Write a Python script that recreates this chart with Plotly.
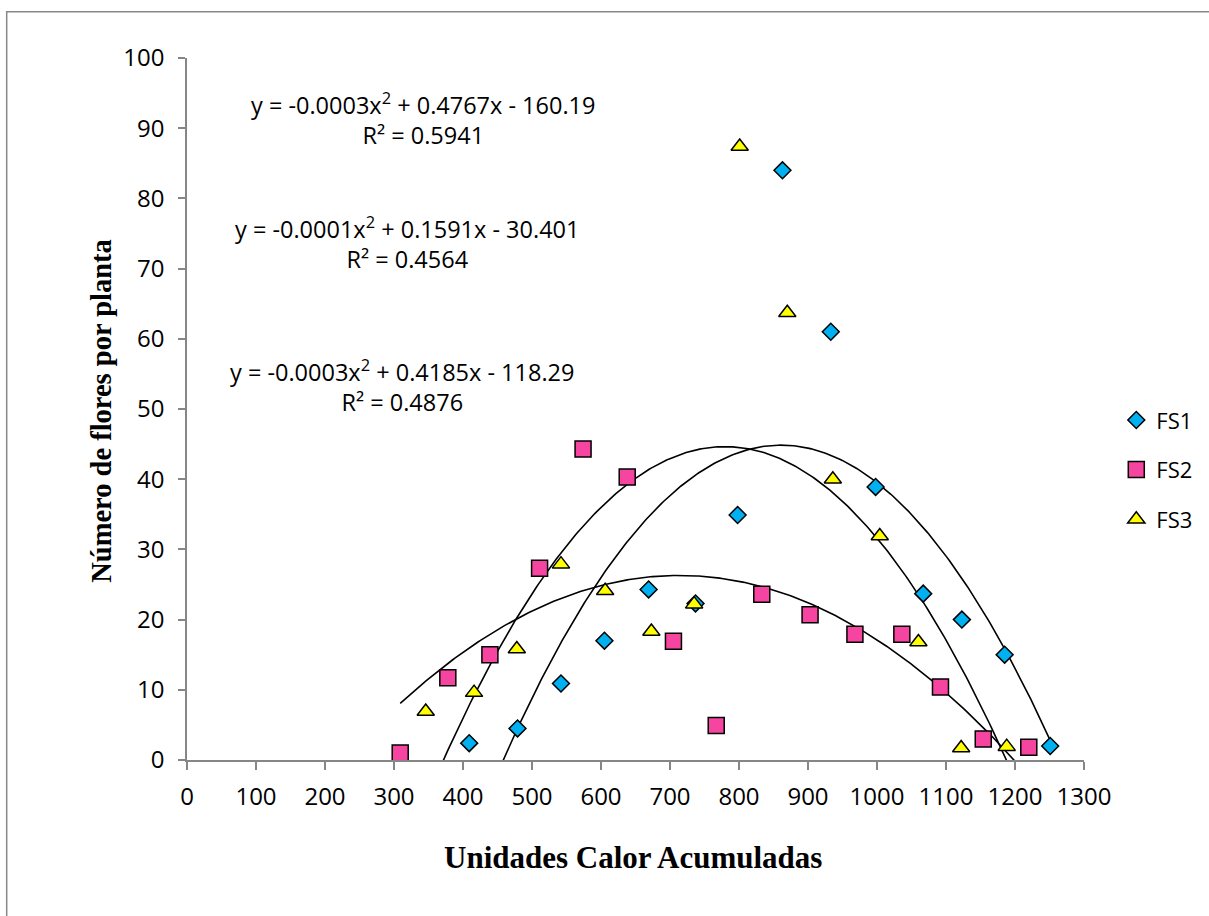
import numpy as np
import plotly.graph_objects as go

# ---- data ----
fs1_x = [409, 479, 542, 605, 669, 737, 798, 863, 933, 998, 1067, 1123, 1185, 1251]
fs1_y = [2.4, 4.5, 10.9, 17.0, 24.3, 22.3, 34.9, 84.0, 61.0, 38.9, 23.7, 20.0, 15.0, 2.0]

fs2_x = [309, 378, 439, 511, 574, 638, 705, 767, 833, 903, 968, 1036, 1092, 1154, 1220]
fs2_y = [1.0, 11.7, 15.0, 27.3, 44.3, 40.3, 16.9, 4.9, 23.6, 20.7, 17.9, 17.9, 10.4, 3.0, 1.8]

fs3_x = [346, 416, 478, 542, 606, 673, 735, 801, 870, 936, 1004, 1060, 1122, 1188]
fs3_y = [6.9, 9.6, 15.8, 27.9, 24.1, 18.3, 22.2, 87.4, 63.7, 40.0, 31.9, 16.8, 1.7, 1.9]

series_names = ["FS1", "FS2", "FS3"]
equations = [
    "y = -0.0003x<sup>2</sup> + 0.4767x - 160.19<br>R² = 0.5941",
    "y = -0.0001x<sup>2</sup> + 0.1591x - 30.401<br>R² = 0.4564",
    "y = -0.0003x<sup>2</sup> + 0.4185x - 118.29<br>R² = 0.4876",
]
x_title = "Unidades Calor Acumuladas"
y_title = "Número de flores por planta"
x_ticks = list(range(0, 1301, 100))
y_ticks = list(range(0, 101, 10))

xs = [fs1_x, fs2_x, fs3_x]
ys = [fs1_y, fs2_y, fs3_y]
symbols = ["diamond", "square", "triangle-up"]
sizes = [13, 16, 15]
colors = ["#00B0F0", "#F545A0", "#FFFF00"]
eq_pos = [(342.7, 91.4), (318.7, 73.75), (311.5, 53.3)]

FONT = "Open Sans"
SERIF = "Liberation Serif"
fig = go.Figure()

# trendlines (2nd order polynomial fits of each series)
for x, y in zip(xs, ys):
    c = np.polyfit(x, y, 2)
    xx = np.linspace(min(x), max(x), 300)
    fig.add_trace(go.Scatter(x=xx, y=np.polyval(c, xx), mode="lines",
                             line=dict(color="black", width=1.6),
                             showlegend=False, hoverinfo="skip"))

for i, (x, y) in enumerate(zip(xs, ys)):
    fig.add_trace(go.Scatter(
        x=x, y=y, mode="markers", name=series_names[i], legendgroup=series_names[i],
        marker=dict(symbol=symbols[i], size=sizes[i], color=colors[i],
                    line=dict(color="black", width=1.5)),
        cliponaxis=False))

for (ax, ay), txt in zip(eq_pos, equations):
    fig.add_annotation(x=ax, y=ay, xref="x", yref="y", text=txt, showarrow=False,
                       align="center", font=dict(family=FONT, size=23.5, color="black"))

# axis titles
fig.add_annotation(x=0.497, y=-0.139, xref="paper", yref="paper", text="<b>%s</b>" % x_title,
                   showarrow=False, xanchor="center", yanchor="middle",
                   font=dict(family=SERIF, size=31, color="black"))
fig.add_annotation(x=-0.0948, y=0.4974, xref="paper", yref="paper", text="<b>%s</b>" % y_title,
                   showarrow=False, xanchor="center", yanchor="middle", textangle=-90,
                   font=dict(family=SERIF, size=28.5, color="black"))

axis_col = "#868686"
fig.update_xaxes(range=[0, 1300], tickvals=x_ticks, showgrid=False, zeroline=False,
                 showline=True, linecolor=axis_col, linewidth=1.5,
                 ticks="outside", ticklen=8, tickcolor=axis_col, tickwidth=1.5,
                 ticklabelstandoff=6,
                 tickfont=dict(family=FONT, size=24, color="black"))
fig.update_yaxes(range=[0, 100], tickvals=y_ticks, showgrid=False, zeroline=False,
                 showline=True, linecolor=axis_col, linewidth=1.5,
                 ticks="outside", ticklen=7, tickcolor=axis_col, tickwidth=1.5,
                 ticklabelstandoff=9,
                 tickfont=dict(family=FONT, size=24, color="black"))

# outer chart border (left and top visible)
fig.add_shape(type="rect", xref="paper", yref="paper", x0=-0.201, x1=1.16,
              y0=-0.24, y1=1.066, line=dict(color="#888888", width=1.5), layer="below")

fig.update_layout(
    width=1209, height=916,
    margin=dict(l=187, r=125, t=58, b=156),
    paper_bgcolor="white", plot_bgcolor="white",
    legend=dict(x=1.036, y=0.514, xanchor="left", yanchor="top", tracegroupgap=18,
                font=dict(family=FONT, size=22, color="black"),
                bgcolor="rgba(0,0,0,0)"),
)

fig.write_html("out.html", config={"displayModeBar": False},
               post_script="document.body.style.margin='0px';")
